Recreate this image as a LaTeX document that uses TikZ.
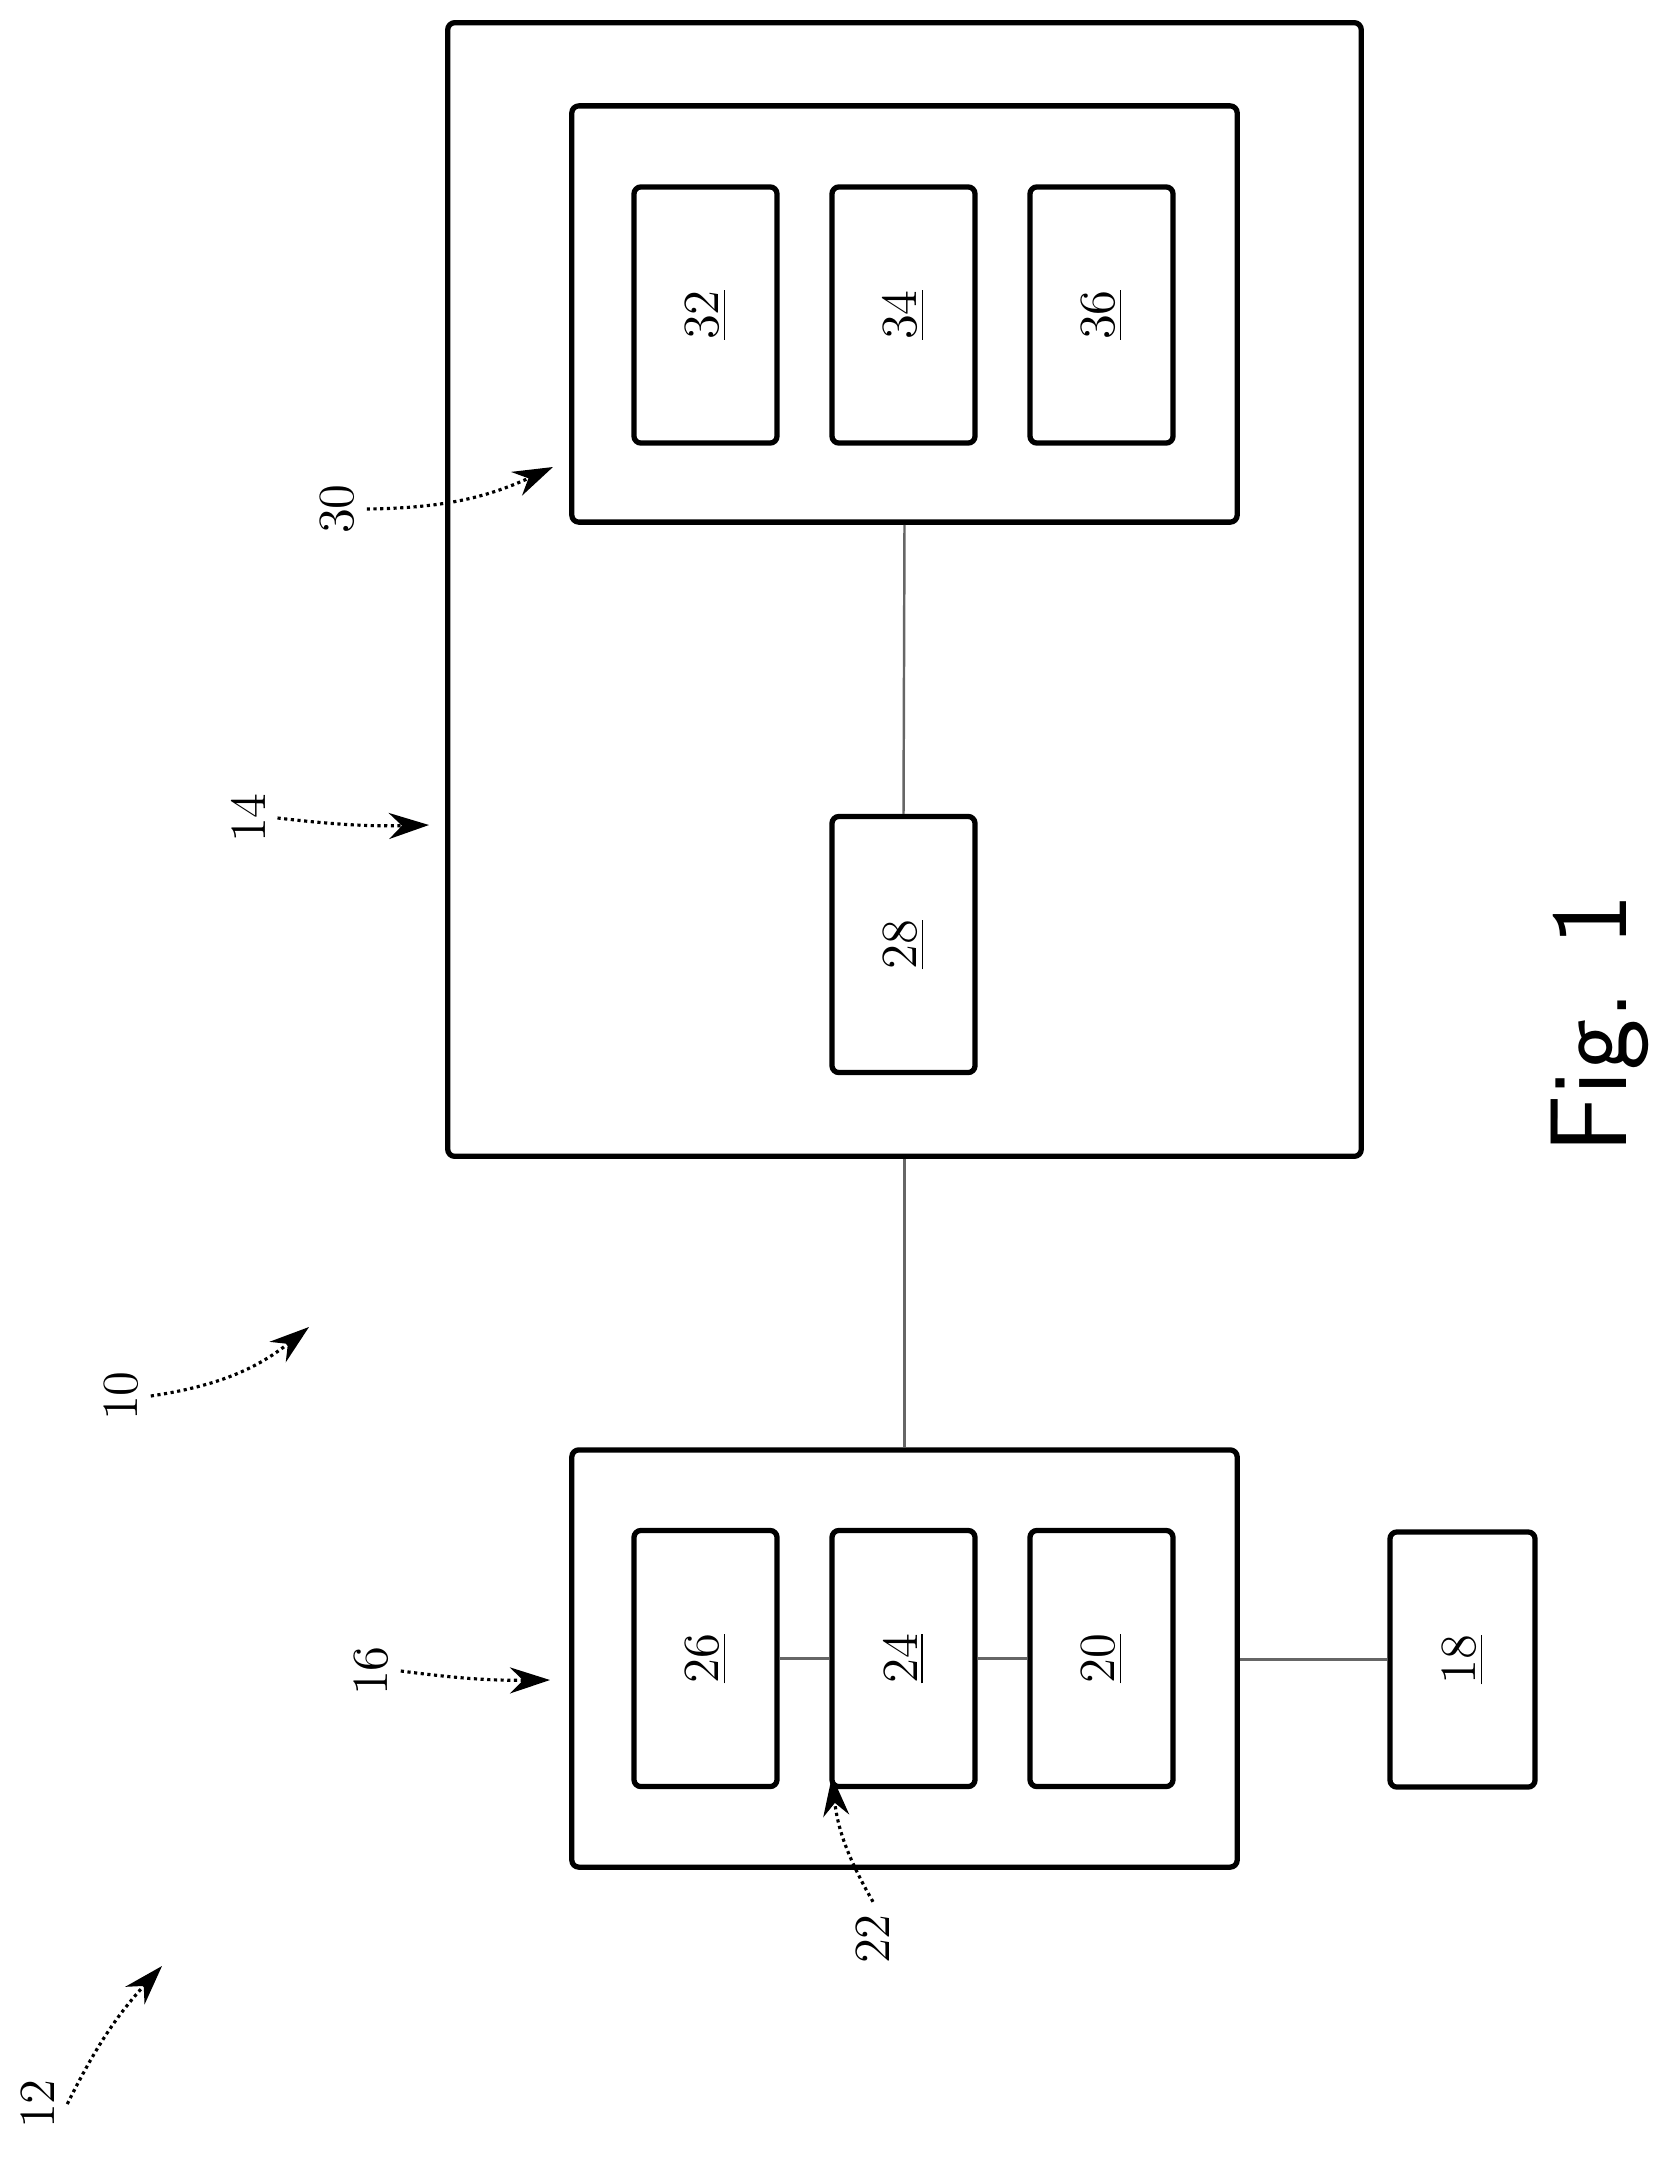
\documentclass[tikz,border=0pt]{standalone}
\usepackage{tikz}
\usetikzlibrary{arrows.meta}
\begin{document}
\begin{tikzpicture}
[x=0.01cm,y=-0.01cm,
frame/.style={rectangle,draw=black,line width=1.5pt,rounded corners=2pt,inner sep=0pt},
unit/.style={frame,minimum width=1.43cm,minimum height=2.56cm},
lnk/.style={draw=black!60,line width=0.7pt},
refl/.style={font=\Large,rotate=90},
ptr/.style={densely dotted,line width=0.9pt,-{Stealth[length=4mm,width=2.6mm]}}]
\useasboundingbox (0,0) rectangle (1678,2157);
% system 14
\node at (904.5,589.5) [frame,minimum width=9.13cm,minimum height=11.33cm] (sys) {};
\node at (904.5,314)   [frame,minimum width=6.65cm,minimum height=4.16cm] (grp) {};
\node at (705.5,315)   [unit] (u32) {\rotatebox{90}{\Large\underline{32}}};
\node at (903.5,315)   [unit] (u34) {\rotatebox{90}{\Large\underline{34}}};
\node at (1101.5,315)  [unit] (u36) {\rotatebox{90}{\Large\underline{36}}};
\node at (903.5,944.5) [unit] (u28) {\rotatebox{90}{\Large\underline{28}}};
% device 16
\node at (904.5,1658.5) [frame,minimum width=6.65cm,minimum height=4.17cm] (dev) {};
\node at (705.5,1658.5) [unit] (u26) {\rotatebox{90}{\Large\underline{26}}};
\node at (903.5,1658.5) [unit] (u24) {\rotatebox{90}{\Large\underline{24}}};
\node at (1101.5,1658.5)[unit] (u20) {\rotatebox{90}{\Large\underline{20}}};
\node at (1462.5,1659.5)[frame,minimum width=1.45cm,minimum height=2.55cm] (u18) {\rotatebox{90}{\Large\underline{18}}};
% links
\draw [lnk] (grp.south) to (u28.north);
\draw [lnk] (sys.south) to (dev.north);
\draw [lnk] (u26.east) to (u24.west);
\draw [lnk] (u24.east) to (u20.west);
\draw [lnk] (dev.east |- u18.west) to (u18.west);
% reference labels
\node at (337,509)  [refl] (l30) {30};
\node at (248,818)  [refl] (l14) {14};
\node at (121,1396) [refl] (l10) {10};
\node at (371,1671) [refl] (l16) {16};
\node at (873,1939) [refl] (l22) {22};
\node at (38,2104)  [refl] (l12) {12};
\coordinate (t30) at (553,467);
\coordinate (t14) at (429,825);
\coordinate (t10) at (309,1327);
\coordinate (t16) at (550,1680);
\coordinate (t22) at (832,1776);
\coordinate (t12) at (162,1966);
\draw [ptr] (l30.south) to[bend right=12] (t30);
\draw [ptr] (l14.south) to[bend right=4] (t14);
\draw [ptr] (l10.south) to[bend right=15] (t10);
\draw [ptr] (l16.south) to[bend right=4] (t16);
\draw [ptr] (l22.east) to[bend left=12] (t22);
\draw [ptr] (l12.south) to[bend left=8] (t12);
\node at (1600,1024) [rotate=90,font=\sffamily\fontsize{31}{36}\selectfont] (fig) {Fig. 1};
\end{tikzpicture}
\end{document}
